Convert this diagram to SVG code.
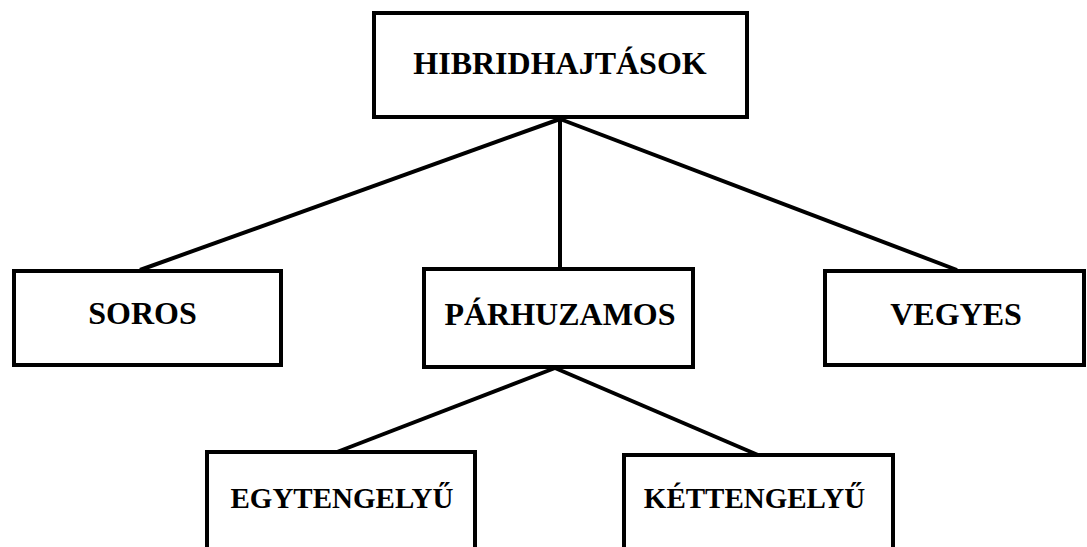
<svg xmlns="http://www.w3.org/2000/svg" width="1087" height="547" viewBox="0 0 1087 547">
<style>
.box{fill:#fff;stroke:#000;stroke-width:4}
.lbl{font-family:"Liberation Serif","Times New Roman",serif;font-weight:bold;text-anchor:middle;fill:#000}
.big{font-size:32px}
.small{font-size:29px}
.conn line{stroke:#000;stroke-width:4}
</style>
<rect width="1087" height="547" fill="#fff"/>
<g class="conn" id="connectors">
<line x1="560" y1="119" x2="140" y2="270"/>
<line x1="560" y1="119" x2="560" y2="268"/>
<line x1="560" y1="119" x2="957" y2="270"/>
<line x1="555" y1="368" x2="337" y2="452"/>
<line x1="555" y1="368" x2="758" y2="455"/>
</g>
<g id="hibridhajtasok"><rect class="box" x="374" y="13" width="373" height="104"/><text class="lbl big" x="560" y="74">HIBRIDHAJTÁSOK</text></g>
<g id="soros"><rect class="box" x="14" y="271" width="267" height="94"/><text class="lbl big" x="142.5" y="324">SOROS</text></g>
<g id="parhuzamos"><rect class="box" x="424" y="269" width="269" height="98"/><text class="lbl big" x="560" y="325">PÁRHUZAMOS</text></g>
<g id="vegyes"><rect class="box" x="825" y="271" width="259" height="94"/><text class="lbl big" x="956" y="325">VEGYES</text></g>
<g id="egytengelyu"><rect class="box" x="207" y="452" width="268" height="120"/><text class="lbl small" x="342" y="508">EGYTENGELYŰ</text></g>
<g id="kettengelyu"><rect class="box" x="624" y="455" width="269" height="120"/><text class="lbl small" x="754.5" y="508">KÉTTENGELYŰ</text></g>
</svg>
